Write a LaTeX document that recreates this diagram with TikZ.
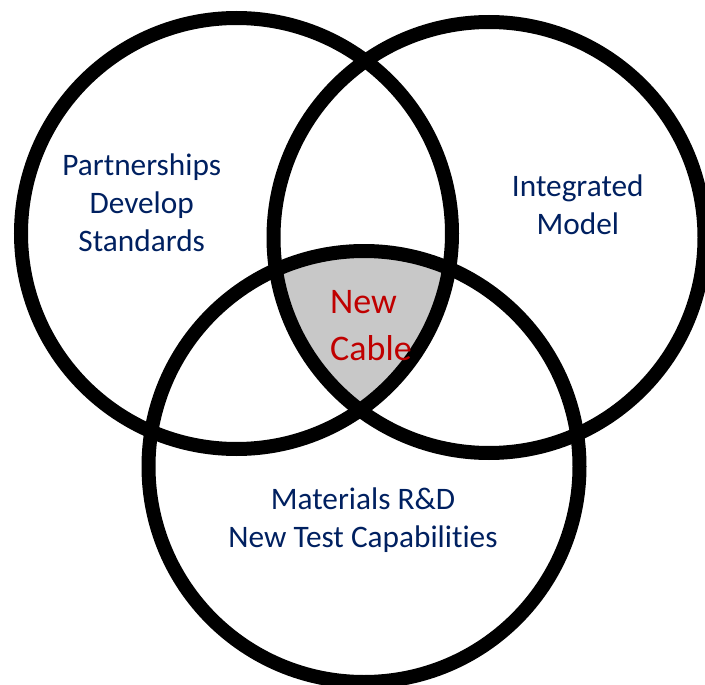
\documentclass[tikz,border=0pt]{standalone}
\usepackage{fontspec}
\setmainfont{Carlito}[Ligatures=NoCommon]
\definecolor{setnavy}{RGB}{0,32,96}
\definecolor{cablered}{RGB}{192,0,0}
\definecolor{coregray}{RGB}{200,200,200}
\tikzstyle{setring} = [
	draw=black,
	line width=14pt
]
\tikzstyle{setlabel} = [
	text=setnavy,
	align=center,
	inner sep=0pt,
	font=\fontsize{31.3}{38}\selectfont
]
\tikzstyle{corelabel} = [
	text=cablered,
	align=left,
	inner sep=0pt,
	font=\fontsize{36}{46.7}\selectfont
]

\begin{document}
\begin{tikzpicture}[x=1pt, y=-1pt]

		\useasboundingbox (0,0) rectangle (705,685);

		\coordinate (leftset) at (236.5,233.5);
		\coordinate (rightset) at (489,237.5);
		\coordinate (bottomset) at (364,466.5);

		% shaded core where all three sets meet
		\begin{scope}
			\clip (leftset) circle (215.5pt);
			\clip (rightset) circle (215.5pt);
			\fill [coregray] (bottomset) circle (215.5pt);
		\end{scope}

		\draw [setring] (leftset) circle (215.5pt);
		\draw [setring] (rightset) circle (215.5pt);
		\draw [setring] (bottomset) circle (215.5pt);

		% base anchor sits on the last line
		\node (partnerships) [setlabel, anchor=base] at (141.7,251) {Partnerships\\Develop\\Standards};
		\node (integrated) [setlabel, anchor=base] at (577.8,234.5) {Integrated\\Model};
		\node (materials) [setlabel, anchor=base] at (363,547) {Materials R\&D\\New Test Capabilities};
		\node (newcable) [corelabel, anchor=base west] at (330,360) {New\\Cable};

	\end{tikzpicture}
\end{document}
